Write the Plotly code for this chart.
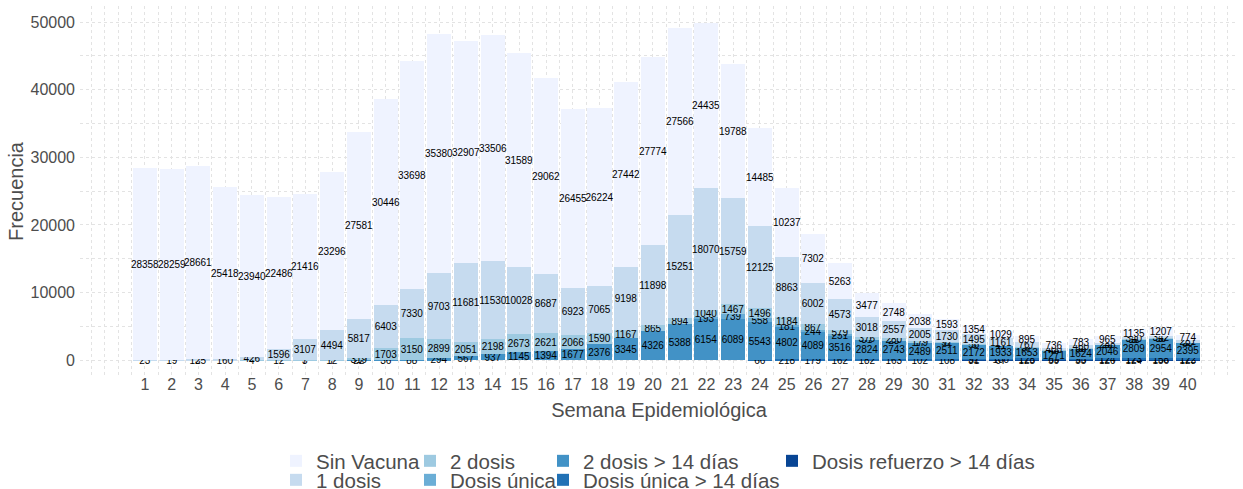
import plotly.graph_objects as go

weeks = list(range(1, 41))

sin_vacuna = [28358, 28259, 28661, 25418, 23940, 22486, 21416, 23296, 27581, 30446,
              33698, 35380, 32907, 33506, 31589, 29062, 26455, 26224, 27442, 27774,
              27566, 24435, 19788, 14485, 10237, 7302, 5263, 3477, 2748, 2038,
              1593, 1354, 1029, 895, 736, 783, 965, 1135, 1207, 774]

una_dosis = [23, 19, 125, 160, 426, 1596, 3107, 4494, 5817, 6403,
             7330, 9703, 11681, 11530, 10028, 8687, 6923, 7065, 9198, 11898,
             15251, 18070, 15759, 12125, 8863, 6002, 4573, 3018, 2557, 2005,
             1730, 1495, 1161, 767, 400, 460, 288, 340, 342, 281]

dos_dosis = [0, 0, 3, 0, 4, 12, 7, 12, 319, 1703,
             3150, 2899, 2051, 2198, 2673, 2621, 2066, 1590, 1167, 865,
             894, 1040, 1467, 1496, 1184, 867, 579, 376, 280, 179,
             91, 56, 41, 37, 40, 38, 20, 31, 30, 23]

dosis_unica = [0, 0, 0, 0, 0, 0, 0, 0, 0, 0,
               0, 0, 0, 0, 0, 0, 0, 0, 0, 0,
               0, 193, 739, 558, 181, 244, 251, 31, 23, 17,
               8, 5, 11, 7, 6, 5, 4, 3, 3, 2]

dos_dosis_14 = [0, 0, 0, 0, 0, 0, 3, 7, 22, 36,
                88, 294, 567, 937, 1145, 1394, 1677, 2376, 3345, 4326,
                5388, 6154, 6089, 5543, 4802, 4089, 3516, 2824, 2743, 2489,
                2511, 2172, 1933, 1653, 1271, 1624, 2046, 2809, 2954, 2395]

unica_14 = [0, 0, 0, 0, 0, 0, 0, 0, 0, 0,
            0, 0, 0, 0, 0, 0, 0, 0, 0, 0,
            0, 0, 0, 66, 218, 179, 162, 182, 163, 102,
            108, 92, 100, 128, 69, 95, 124, 123, 158, 122]

refuerzo_14 = [0, 0, 0, 0, 0, 0, 0, 0, 0, 0,
               0, 0, 0, 0, 0, 0, 0, 0, 0, 0,
               0, 0, 0, 0, 0, 0, 0, 0, 0, 0,
               0, 31, 67, 125, 59, 55, 120, 124, 156, 123]

series = [
    ("Sin Vacuna", sin_vacuna, "#EFF3FF"),
    ("1 dosis", una_dosis, "#C6DBEF"),
    ("2 dosis", dos_dosis, "#9ECAE1"),
    ("Dosis única", dosis_unica, "#6BAED6"),
    ("2 dosis > 14 días", dos_dosis_14, "#4292C6"),
    ("Dosis única > 14 días", unica_14, "#2171B5"),
    ("Dosis refuerzo > 14 días", refuerzo_14, "#084594"),
]

# legend placement: pixel x where each column's text starts, pixel y of row text centres
L, R, T, B = 80, 5, 6, 112
W, H = 1243, 489
pw, ph = W - L - R, H - T - B
col_text_px = [315, 449, 582, 811]
row_center_px = [461, 480]
leg_pos = [(0, 0), (0, 1), (1, 0), (1, 1), (2, 0), (2, 1), (3, 0)]

fig = go.Figure()
legend_layouts = {}
# plotly stacks first trace at bottom -> add in reverse
for idx in reversed(range(len(series))):
    name, vals, col = series[idx]
    lname = "legend" if idx == 0 else f"legend{idx+1}"
    fig.add_trace(go.Bar(
        x=weeks, y=vals, name=name, marker=dict(color=col, line=dict(width=0)),
        width=0.9, showlegend=True,
        text=[str(v) if v else "" for v in vals],
        textposition="inside", insidetextanchor="middle", textangle=0,
        constraintext="none",
        textfont=dict(family="Liberation Sans, Arial", size=10, color="black"),
        legend=lname,
    ))
    c, r = leg_pos[idx]
    legend_layouts[lname] = dict(
        x=(col_text_px[c] - 39 - L) / pw, xanchor="left",
        y=(H - B - (row_center_px[r] - 20)) / ph, yanchor="top",
        font=dict(family="Liberation Sans, Arial", size=20.5, color="#4D4D4D"),
        bgcolor="rgba(0,0,0,0)", borderwidth=0, visible=True,
    )

grid_col = "#E3E3E3"
fig.update_layout(
    barmode="stack",
    bargap=0,
    showlegend=True,
    width=W, height=H,
    margin=dict(l=L, r=R, t=T, b=B, autoexpand=False),
    plot_bgcolor="white", paper_bgcolor="white",
    font=dict(family="Liberation Sans, Arial", color="#4D4D4D"),
    uniformtext=dict(minsize=10, mode="show"),
    xaxis=dict(
        range=[-1.43, 41.88],
        tickvals=list(range(-1, 43)),
        ticktext=[str(i) if 1 <= i <= 40 else "" for i in range(-1, 43)],
        tickfont=dict(size=16, color="#4D4D4D"),
        ticklabelstandoff=-4,
        showgrid=True, gridcolor=grid_col, griddash="dot", gridwidth=1,
        minor=dict(tickvals=[i + 0.5 for i in range(-2, 43)], showgrid=True,
                   gridcolor=grid_col, griddash="dot", gridwidth=1),
        zeroline=False, showline=False, ticks="",
        title=dict(text="Semana Epidemiológica", font=dict(size=20, color="#4D4D4D"), standoff=10),
    ),
    yaxis=dict(
        range=[-2495, 52387],
        tickvals=[0, 10000, 20000, 30000, 40000, 50000],
        ticktext=["0", "10000", "20000", "30000", "40000", "50000"],
        tickfont=dict(size=16, color="#4D4D4D"),
        ticklabelstandoff=4,
        showgrid=True, gridcolor=grid_col, griddash="dot", gridwidth=1,
        minor=dict(dtick=5000, tick0=0, showgrid=True, gridcolor=grid_col, griddash="dot", gridwidth=1),
        zeroline=False, showline=False, ticks="",
        title=dict(text="Frecuencia", font=dict(size=20, color="#4D4D4D"), standoff=1),
    ),
    **legend_layouts,
)

fig.write_html("out.html", config={"displayModeBar": False},
               post_script="document.body.style.margin='0px';")
